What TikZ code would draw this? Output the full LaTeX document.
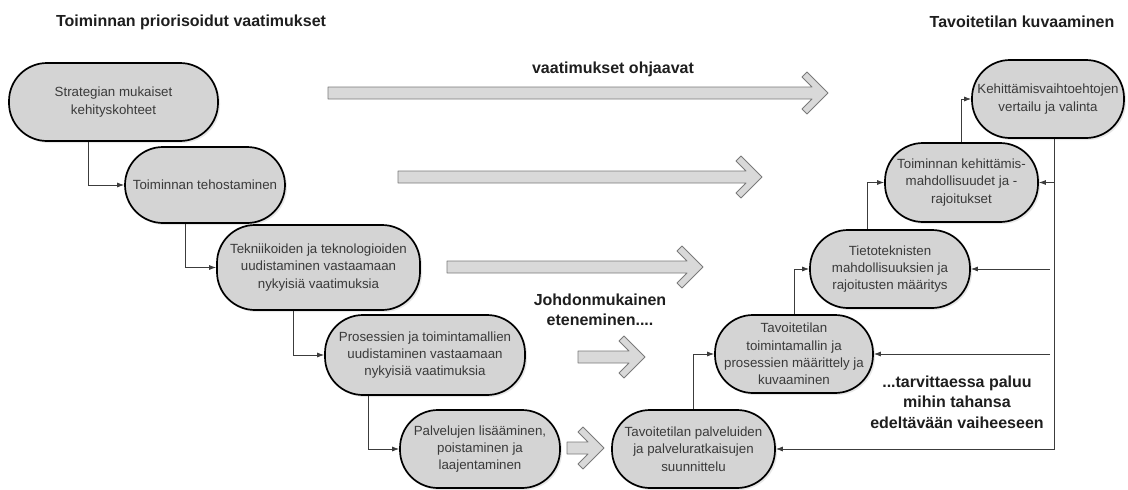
\documentclass[tikz,border=0pt]{standalone}
\usepackage{fontspec}
\setmainfont{Liberation Sans}
\usetikzlibrary{arrows.meta,shadows}

\definecolor{stagefill}{HTML}{D4D4D4}
\definecolor{stagetext}{HTML}{3A3A3A}
\definecolor{linkgray}{HTML}{3C3C3C}
\definecolor{flowfill}{HTML}{D9D9D9}
\definecolor{flowline}{HTML}{7A7A7A}
\definecolor{headtext}{HTML}{1E1E1E}

\tikzset{
  stage/.style={draw=black,line width=1.7pt,fill=stagefill,rounded corners=38pt,
    minimum height=78pt,inner sep=1pt,align=center,text=stagetext,
    font=\fontsize{13.3}{17.3}\selectfont,
    drop shadow={shadow xshift=2pt,shadow yshift=-2pt,opacity=0.18}},
  link/.style={draw=linkgray,line width=0.8pt,-{Latex[length=7pt,width=5pt]}},
  flow/.style={draw=flowline,fill=flowfill,line width=0.9pt,line join=round},
  heading/.style={font=\fontsize{16}{20.5}\selectfont\bfseries,text=headtext,align=center}
}

\begin{document}
\begin{tikzpicture}[x=1pt,y=-1pt]
\useasboundingbox (0,0) rectangle (1128,490);

% otsikot
\node[heading] (vasotsikko) at (191,22) {Toiminnan priorisoidut vaatimukset};
\node[heading] (oikotsikko) at (1022,22) {Tavoitetilan kuvaaminen};
\node[heading] (ohjaavat) at (613,69) {vaatimukset ohjaavat};
\node[heading] (johdon) at (600,310) {Johdonmukainen\\eteneminen....};
\node[heading] (paluuteksti) at (957,402) {...tarvittaessa paluu\\mihin tahansa\\edeltävään vaiheeseen};

% harmaat nuolet
\foreach \xa/\xb/\yy in {328/828/93, 398/762/177, 447/703/267, 578/645/357, 567/604/448}
  \draw[flow] (\xa,\yy-6) -- (\xb-16,\yy-6) -- (\xb-26,\yy-16) -- (\xb-21,\yy-21)
    -- (\xb,\yy) -- (\xb-21,\yy+21) -- (\xb-26,\yy+16) -- (\xb-16,\yy+6)
    -- (\xa,\yy+6) -- cycle;

% vaatimukset
\node[stage,minimum width=209pt] (strategia) at (113.5,102) {Strategian mukaiset\\kehityskohteet};
\node[stage,minimum width=160pt,minimum height=76pt] (tehostus) at (205,185) {Toiminnan tehostaminen};
\node[stage,minimum width=203pt,minimum height=85pt] (tekniikka) at (318.5,267.5) {Tekniikoiden ja teknologioiden\\uudistaminen vastaamaan\\nykyisiä vaatimuksia};
\node[stage,minimum width=200pt,minimum height=80pt] (prosessit) at (425,355) {Prosessien ja toimintamallien\\uudistaminen vastaamaan\\nykyisiä vaatimuksia};
\node[stage,minimum width=160pt] (palvelut) at (480,449) {Palvelujen lisääminen,\\poistaminen ja\\laajentaminen};

% tavoitetila
\node[stage,minimum width=163pt] (tavpalvelut) at (693.5,449) {Tavoitetilan palveluiden\\ja palveluratkaisujen\\suunnittelu};
\node[stage,minimum width=158pt] (tavmalli) at (794,354) {Tavoitetilan\\toimintamallin ja\\prosessien määrittely ja\\kuvaaminen};
\node[stage,minimum width=160pt] (tietotek) at (890,269) {Tietoteknisten\\mahdollisuuksien ja\\rajoitusten määritys};
\node[stage,minimum width=153pt,minimum height=79pt] (kehitys) at (961.5,182.5) {Toiminnan kehittämis-\\mahdollisuudet ja -\\rajoitukset};
\node[stage,minimum width=152pt] (valinta) at (1048,99) {Kehittämisvaihtoehtojen\\vertailu ja valinta};

% etenemisen yhteydet
\draw[link] ([xshift=-25.5pt]strategia.south) |- (tehostus.west);
\draw[link] ([xshift=-20pt]tehostus.south) |- (tekniikka.west);
\draw[link] ([xshift=-25.5pt]tekniikka.south) |- (prosessit.west);
\draw[link] ([xshift=-57pt]prosessit.south) |- (palvelut.west);
\draw[link] (tavpalvelut.north) |- (tavmalli.west);
\draw[link] (tavmalli.north) |- (tietotek.west);
\draw[link] ([xshift=-23pt]tietotek.north) |- (kehitys.west);
\draw[link] (kehitys.north) |- (valinta.west);

% paluut
\coordinate (paluu) at (1054,0);
\coordinate (paluuvali) at (1050,0);
\draw[link] ([xshift=6pt]valinta.south) |- (tavpalvelut.east);
\draw[link] (paluu |- kehitys.east) -- (kehitys.east);
\draw[link] (paluuvali |- tietotek.east) -- (tietotek.east);
\draw[link] (paluuvali |- tavmalli.east) -- (tavmalli.east);
\end{tikzpicture}
\end{document}
